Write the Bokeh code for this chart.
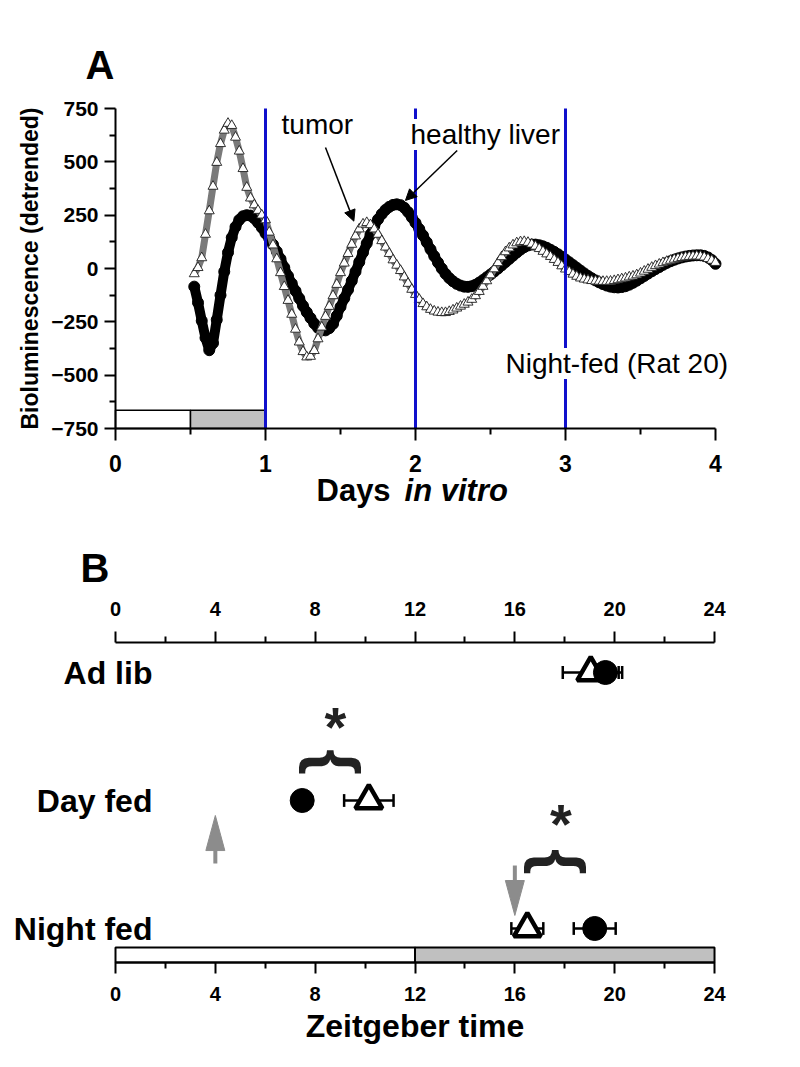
import numpy as np
from bokeh.plotting import figure
from bokeh.layouts import column
from bokeh.models import Range1d, LinearAxis, FixedTicker, Label, Arrow, NormalHead
from bokeh.embed import file_html
from bokeh.resources import INLINE
from bokeh.core.properties import value

FONT = "Liberation Sans"

# ---------------- Panel A data (days in vitro, 0.025-day grid) ----------------
days = np.round(np.arange(0.525, 4.0001, 0.025), 3)
healthy_liver = [
    -85, -160, -245, -325, -383, -350, -240, -125, -15, 75,      # 0.525-0.75
    145, 195, 228, 245, 250, 248, 235, 215, 192, 165,            # 0.775-1.0
    140, 112, 80, 45, 5, -35, -70, -105, -140, -175,             # 1.025-1.25
    -205, -232, -258, -278, -290, -290, -280, -260, -222, -180,  # 1.275-1.5
    -140, -100, -58, -15, 30, 75, 118, 160, 198, 230,            # 1.525-1.75
    255, 275, 289, 298, 301, 297, 285, 265, 240, 214,            # 1.775-2.0
    185, 155, 123, 90, 58, 28, 0, -25, -45, -60,                 # 2.025-2.25
    -72, -80, -85, -86, -83, -76, -66, -54, -41, -28,            # 2.275-2.5
    -14, 0, 15, 30, 45, 60, 75, 89, 100, 108,                    # 2.525-2.75
    112, 112, 109, 104, 97, 88, 78, 67, 55, 42,                  # 2.775-3.0
    29, 16, 3, -10, -23, -35, -46, -56, -65, -73,                # 3.025-3.25
    -80, -85, -88, -89, -87, -83, -76, -67, -57, -46,            # 3.275-3.5
    -35, -24, -13, -3, 7, 17, 26, 34, 41, 47,                    # 3.525-3.75
    52, 56, 59, 61, 62, 62, 59, 52, 40, 22,                      # 3.775-4.0
]
tumor = [
    -25, 4, 50, 160, 270, 385, 497, 585, 648, 680,               # 0.525-0.75
    670, 615, 550, 468, 380, 330, 298, 272, 250, 228,            # 0.775-1.0
    170, 110, 45, -20, -85, -150, -215, -285, -345, -390,        # 1.025-1.25
    -415, -412, -385, -330, -275, -225, -178, -128, -75, -20,    # 1.275-1.5
    25, 70, 113, 152, 185, 208, 215, 205, 185, 160,              # 1.525-1.75
    130, 100, 70, 40, 15, -10, -40, -70, -98, -122,              # 1.775-2.0
    -145, -165, -180, -192, -200, -205, -207, -207, -202, -195,  # 2.025-2.25
    -186, -177, -168, -158, -145, -128, -108, -84, -58, -30,     # 2.275-2.5
    -2, 27, 55, 78, 96, 110, 120, 125, 126, 122,                 # 2.525-2.75
    114, 104, 93, 80, 68, 56, 42, 28, 12, -3,                    # 2.775-3.0
    -15, -27, -37, -45, -50, -54, -57, -59, -60, -61,            # 3.025-3.25
    -61, -60, -57, -53, -49, -45, -40, -36, -30, -22,            # 3.275-3.5
    -13, -4, 5, 13, 20, 27, 33, 38, 43, 47,                      # 3.525-3.75
    51, 54, 56, 57, 58, 57, 53, 46, 38, 28,                      # 3.775-4.0
]
blue_days = [1, 2, 3]
ld_start_days = [0.0, 0.5]
ld_end_days = [0.5, 1.0]
ld_colors = ["white", "#c0c0c0"]

# ---------------- Panel B data (Zeitgeber time of peak) ----------------
groups = ["Ad lib", "Day fed", "Night fed"]
liver_peak = [19.63, 7.48, 19.20]
liver_sem = [0.67, 0.25, 0.84]
tumor_peak = [19.04, 10.15, 16.50]
tumor_sem = [1.12, 0.99, 0.64]
feeding_zt = [4, 16]
signif_groups = ["Day fed", "Night fed"]
ld_start_zt = [0, 12]
ld_end_zt = [12, 24]


def style_axis(ax, size_px, tick_out=12, minor_out=6):
    ax.axis_line_width = 2
    ax.major_tick_line_width = 2
    ax.minor_tick_line_width = 2
    ax.major_tick_in = 0
    ax.minor_tick_in = 0
    ax.major_tick_out = tick_out
    ax.minor_tick_out = minor_out
    ax.major_label_text_font = FONT
    ax.major_label_text_font_style = "bold"
    ax.major_label_text_font_size = f"{size_px}px"
    ax.major_label_text_color = "black"
    ax.axis_label_text_font = FONT
    ax.axis_label_text_font_style = "bold"
    ax.axis_label_text_color = "black"


def txt(p, x, y, text, size, style="normal", align="left", baseline="alphabetic", bg=None, angle=0.0):
    lab = Label(x=x, y=y, text=text, text_font=FONT, text_font_size=f"{size}px",
                text_font_style=style, text_align=align, text_baseline=baseline,
                text_color="black", angle=angle)
    if bg:
        lab.background_fill_color = bg
    p.add_layout(lab)
    return lab


# ================= Panel A =================
# canvas 800 x 523 px; frame covers whole canvas, axes are placed at fixed data locations
pA = figure(width=800, height=523, min_border=0,
            x_range=Range1d(-0.76667, 4.56667), y_range=Range1d(-1195.3, 1256.25),
            x_axis_location=None, y_axis_location=None,
            output_backend="svg", toolbar_location=None, outline_line_color=None)
pA.grid.visible = False

xa = LinearAxis(fixed_location=-750, bounds=(0, 4),
                ticker=FixedTicker(ticks=[0, 1, 2, 3, 4], minor_ticks=[0.5, 1.5, 2.5, 3.5]))
style_axis(xa, 23)
xa.major_label_standoff = 14
pA.add_layout(xa, "below")

ya = LinearAxis(fixed_location=0, bounds=(-750, 750),
                ticker=FixedTicker(ticks=[-750, -500, -250, 0, 250, 500, 750],
                                   minor_ticks=[-625, -375, -125, 125, 375, 625]))
style_axis(ya, 21, tick_out=11, minor_out=6)
ya.major_label_standoff = 6
pA.add_layout(ya, "left")

# LD bar
pA.quad(left=ld_start_days, right=ld_end_days, bottom=-750, top=-665,
        fill_color=ld_colors, line_color="black", line_width=1.5)

# healthy liver (filled circles)
pA.line(days, healthy_liver, line_color="black", line_width=10)
pA.scatter(days, healthy_liver, marker="circle", size=11, fill_color="black", line_color="black")
# tumor (open triangles)
pA.line(days, tumor, line_color="#7a7a7a", line_width=7)
pA.scatter(days, tumor, marker="triangle", size=10, fill_color="white", line_color="#1e1e1e", line_width=0.9)

# day boundaries
pA.segment(x0=blue_days, y0=-750, x1=blue_days, y1=750, line_color="#1010cc", line_width=3)

txt(pA, -0.5733, 0, "Bioluminescence (detrended)", 23, style="bold", align="center",
    baseline="middle", angle=np.pi / 2)
txt(pA, 1.107, 675, "tumor", 28)
txt(pA, 1.967, 628, "healthy liver", 28, bg="white")
txt(pA, 2.6, -445, "Night-fed (Rat 20)", 28, bg="white")
pA.add_layout(Arrow(end=NormalHead(size=11, fill_color="black", line_color="black"),
                    x_start=1.4, y_start=567, x_end=1.589, y_end=222, line_width=1.5))
pA.add_layout(Arrow(end=NormalHead(size=11, fill_color="black", line_color="black"),
                    x_start=2.278, y_start=553, x_end=1.933, y_end=319, line_width=1.5))
txt(pA, -0.2, 955, "A", 40, style="bold", baseline="middle")
txt(pA, 1.34, -1040, "Days ", 31, style="bold", baseline="middle")
txt(pA, 1.927, -1040, "in vitro", 31, style="bold italic", baseline="middle")

# ================= Panel B =================
pB = figure(width=800, height=540, min_border=0,
            x_range=Range1d(-4.6076, 27.4449), y_range=Range1d(-0.0547, 4.1641),
            x_axis_location=None, y_axis_location=None,
            output_backend="svg", toolbar_location=None, outline_line_color=None)
pB.grid.visible = False

LD_BOTTOM, LD_TOP, AX_TOP = 0.734, 0.852, 3.234

bot_ax = LinearAxis(fixed_location=LD_BOTTOM, bounds=(0, 24),
                    ticker=FixedTicker(ticks=list(range(0, 25, 4)), minor_ticks=list(range(2, 24, 4))))
style_axis(bot_ax, 20, tick_out=11, minor_out=6)
bot_ax.major_label_standoff = 13
bot_ax.axis_label = "Zeitgeber time"
bot_ax.axis_label_text_font_size = "32px"
bot_ax.axis_label_standoff = 4
pB.add_layout(bot_ax, "below")

top_ax = LinearAxis(fixed_location=AX_TOP, bounds=(0, 24),
                    ticker=FixedTicker(ticks=list(range(0, 25, 4)), minor_ticks=list(range(2, 24, 4))))
style_axis(top_ax, 20, tick_out=11, minor_out=6)
top_ax.major_label_standoff = 16
pB.add_layout(top_ax, "above")

row_y = [len(groups) - i for i in range(len(groups))]

# LD bar
pB.quad(left=ld_start_zt, right=ld_end_zt, bottom=LD_BOTTOM, top=LD_TOP,
        fill_color=["white", "#c0c0c0"], line_color="black", line_width=2)

# error bars
for peak, sem in ((tumor_peak, tumor_sem), (liver_peak, liver_sem)):
    lo = [p_ - s for p_, s in zip(peak, sem)]
    hi = [p_ + s for p_, s in zip(peak, sem)]
    pB.segment(lo, row_y, hi, row_y, line_color="black", line_width=2.5)
    pB.segment(lo, [y - 0.05 for y in row_y], lo, [y + 0.05 for y in row_y], line_color="black", line_width=2.5)
    pB.segment(hi, [y - 0.05 for y in row_y], hi, [y + 0.05 for y in row_y], line_color="black", line_width=2.5)

pB.scatter(tumor_peak, row_y, marker="triangle", size=27, fill_color="white",
           line_color="black", line_width=4.5)
pB.scatter(liver_peak, row_y, marker="circle", size=24, fill_color="black", line_color="black")

# feeding arrows (gray): day fed up at ZT4, night fed down at ZT16
arrow_gray = "#8c8c8c"
shaft = [(1.508, 1.609), (1.492, 1.375)]
head = [(1.609, 1.883), (1.375, 1.102)]
hw = 0.38
for zt, (s0, s1), (h0, h1) in zip(feeding_zt, shaft, head):
    pB.segment([zt], [s0], [zt], [s1], line_color=arrow_gray, line_width=4)
    pB.patch([zt - hw, zt + hw, zt], [h0, h0, h1], fill_color=arrow_gray, line_color=arrow_gray)

# significance braces and asterisks
sig_idx = [groups.index(g) for g in signif_groups]
sig_x = [(liver_peak[i] + tumor_peak[i]) / 2 for i in sig_idx]
brace_y = [2.30, 1.52]
star_y = [2.575, 1.82]
pB.text(sig_x, brace_y, text=["{", "{"], angle=-np.pi / 2, text_font=value(FONT),
        text_font_size="66px", text_font_style="bold", text_align="center",
        text_baseline="middle", text_color="#222222")
pB.text(sig_x, star_y, text=["*", "*"], text_font=value(FONT),
        text_font_size="56px", text_font_style="bold", text_align="center",
        text_baseline="middle", text_color="#222222")

for g, y in zip(groups, row_y):
    txt(pB, 1.48, y, g, 32, style="bold", align="right", baseline="middle")
txt(pB, -1.4, 3.82, "B", 40, style="bold", baseline="middle")

layout = column(pA, pB, spacing=0)
open("out.html", "w").write(file_html(layout, INLINE))
